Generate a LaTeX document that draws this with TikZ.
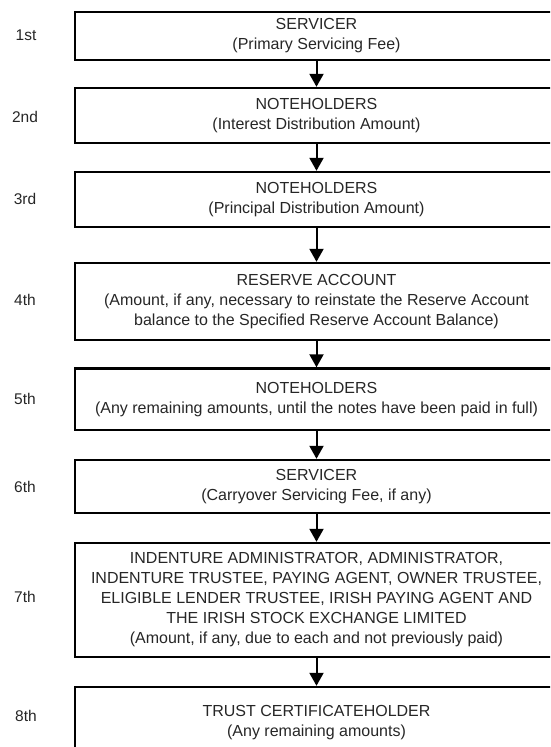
\documentclass[tikz,border=0pt]{standalone}
\usepackage{fontspec}
\setmainfont{Liberation Sans}
\usetikzlibrary{arrows.meta}
\begin{document}
\begin{tikzpicture}[x=1pt,y=1pt,
  stepbox/.style={draw=black, line width=2.4pt, rectangle, minimum width=483pt, align=center,
    inner sep=0pt, font=\fontsize{16}{20}\selectfont, text=black!85},
  rank/.style={font=\fontsize{15.5}{18}\selectfont, text=black!85},
  flow/.style={line width=2pt, -{Triangle[width=14pt,length=13pt]}}]
\useasboundingbox (0,0) rectangle (550,-747);
\begin{scope}
\clip (0,0) rectangle (550,-747);
\node[stepbox, minimum height=48pt] (b1) at (316.5,-36) {SERVICER\\(Primary Servicing Fee)};
\node[stepbox, minimum height=55pt] (b2) at (316.5,-115.5) {NOTEHOLDERS\\(Interest Distribution Amount)};
\node[stepbox, minimum height=55pt] (b3) at (316.5,-199.5) {NOTEHOLDERS\\(Principal Distribution Amount)};
\node[stepbox, minimum height=77pt] (b4) at (316.5,-301.5) {RESERVE ACCOUNT\\(Amount, if any, necessary to reinstate the Reserve Account\\balance to the Specified Reserve Account Balance)};
\node[stepbox, minimum height=61.5pt] (b5) at (316.5,-399.25) {NOTEHOLDERS\\(Any remaining amounts, until the notes have been paid in full)};
\node[stepbox, minimum height=53pt] (b6) at (316.5,-486.5) {SERVICER\\(Carryover Servicing Fee, if any)};
\node[stepbox, minimum height=114pt] (b7) at (316.5,-600) {INDENTURE ADMINISTRATOR, ADMINISTRATOR,\\INDENTURE TRUSTEE, PAYING AGENT, OWNER TRUSTEE,\\ELIGIBLE LENDER TRUSTEE, IRISH PAYING AGENT AND\\THE IRISH STOCK EXCHANGE LIMITED\\(Amount, if any, due to each and not previously paid)};
\node[stepbox, minimum height=71pt] (b8) at (316.5,-722.5) {TRUST CERTIFICATEHOLDER\\(Any remaining amounts)};
\draw[flow] (b1.south) -- (b2.north);
\draw[flow] (b2.south) -- (b3.north);
\draw[flow] (b3.south) -- (b4.north);
\draw[flow] (b4.south) -- (b5.north);
\draw[flow] (b5.south) -- (b6.north);
\draw[flow] (b6.south) -- (b7.north);
\draw[flow] (b7.south) -- (b8.north);
\end{scope}
\node[rank] (r1) at (26,-35) {1st};
\node[rank] (r2) at (25,-117) {2nd};
\node[rank] (r3) at (25,-199) {3rd};
\node[rank] (r4) at (25,-300) {4th};
\node[rank] (r5) at (25,-399) {5th};
\node[rank] (r6) at (25,-487) {6th};
\node[rank] (r7) at (25,-597) {7th};
\node[rank] (r8) at (26,-716) {8th};
\end{tikzpicture}
\end{document}
